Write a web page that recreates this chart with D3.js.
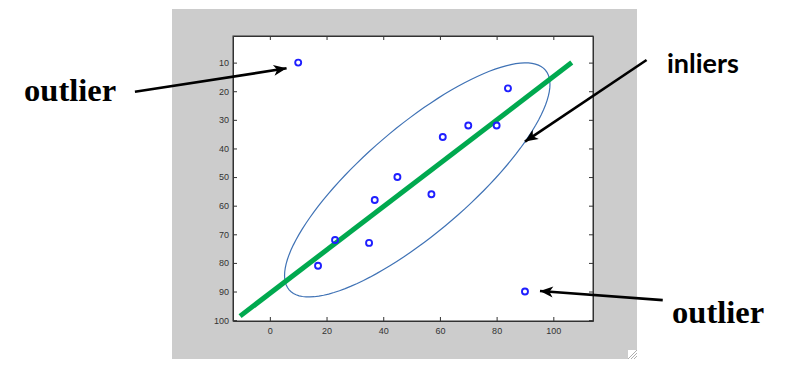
<!DOCTYPE html>
<html>
<head>
<meta charset="utf-8">
<script src="https://cdn.jsdelivr.net/npm/d3@7"></script>
<style>
html,body{margin:0;padding:0;background:#fff;}
svg{display:block;}
.tick text{font-family:"Liberation Sans",Arial,sans-serif;font-size:9px;fill:#333;}
.ax path,.ax line{stroke:#333;}
</style>
</head>
<body>
<svg id="chart" width="789" height="379"></svg>
<script>
// --- data ---
const ptX=[10,84,70,80,61,45,57,37,23,35,17,90];
const ptY=[10,19,32,32,36,50,56,58,72,73,81,90];
const fitX=[-10.5,106.5];
const fitY=[98.6,10];
// ellipse: centre and two conjugate half-axes (data units)
const ellC=[52,51];
const ellU=[45.2,-38.4];
const ellV=[-12.2,-14.1];
const xTicks=[0,20,40,60,80,100];
const yTicks=[10,20,30,40,50,60,70,80,90,100];
// annotations (data units): arrow tail -> tip, label position
const notes=[
  {text:'outlier',font:'bold 32.5px "Liberation Serif","Times New Roman",serif',tx:-86.7,ty:23.4,x0:-47.6,y0:20.2,x1:5.9,y1:12.0},
  {text:'inliers',font:'bold 27px Lato,"Open Sans",sans-serif',tx:140.1,ty:13.5,x0:132.9,y0:9.1,x1:90.0,y1:37.6},
  {text:'outlier',font:'bold 32.5px "Liberation Serif","Times New Roman",serif',tx:141.9,ty:101.0,x0:138.6,y0:93.0,x1:95.3,y1:89.8}
];

const W=789,H=379;
const P={l:233,t:36,r:593,b:321};
const svg=d3.select('#chart');

// figure window background
svg.append('rect').attr('x',172).attr('y',9).attr('width',465).attr('height',350).attr('fill','#cccccc');
const grip=svg.append('g');
grip.append('rect').attr('x',628).attr('y',350).attr('width',9).attr('height',9).attr('fill','#fff');
[3,6,9].forEach(d=>grip.append('line').attr('x1',637-d).attr('y1',359).attr('x2',637).attr('y2',359-d).attr('stroke','#999').attr('stroke-width',0.8));

svg.append('rect').attr('x',P.l).attr('y',P.t).attr('width',P.r-P.l).attr('height',P.b-P.t).attr('fill','#fff');

const x=d3.scaleLinear().domain([-13,114]).range([P.l,P.r]);
const y=d3.scaleLinear().domain([0.7,100.3]).range([P.t,P.b]);

svg.append('g').attr('class','ax').attr('transform',`translate(0,${P.b})`)
  .call(d3.axisBottom(x).tickValues(xTicks).tickSizeInner(-4).tickSizeOuter(0).tickPadding(7));
svg.append('g').attr('class','ax').attr('transform',`translate(0,${P.t})`)
  .call(d3.axisTop(x).tickValues(xTicks).tickFormat('').tickSizeInner(-4).tickSizeOuter(0));
svg.append('g').attr('class','ax').attr('transform',`translate(${P.l},0)`)
  .call(d3.axisLeft(y).tickValues(yTicks).tickSizeInner(-4).tickSizeOuter(0).tickPadding(4));
svg.append('g').attr('class','ax').attr('transform',`translate(${P.r},0)`)
  .call(d3.axisRight(y).tickValues(yTicks).tickFormat('').tickSizeInner(-4).tickSizeOuter(0));
svg.append('rect').attr('x',P.l).attr('y',P.t).attr('width',P.r-P.l).attr('height',P.b-P.t)
  .attr('fill','none').attr('stroke','#333').attr('stroke-width',1);

// ellipse
const ts=d3.range(0,361,3).map(a=>a*Math.PI/180);
svg.append('path')
  .datum(ts.map(t=>[ellC[0]+ellU[0]*Math.cos(t)+ellV[0]*Math.sin(t), ellC[1]+ellU[1]*Math.cos(t)+ellV[1]*Math.sin(t)]))
  .attr('d',d3.line().x(d=>x(d[0])).y(d=>y(d[1])))
  .attr('fill','none').attr('stroke','#3f72b5').attr('stroke-width',1.2);

// fitted line
svg.append('path').datum(fitX.map((v,i)=>[v,fitY[i]]))
  .attr('d',d3.line().x(d=>x(d[0])).y(d=>y(d[1])))
  .attr('stroke','#00a94f').attr('stroke-width',5).attr('fill','none');

// points
svg.append('g').selectAll('circle').data(ptX.map((v,i)=>[v,ptY[i]])).join('circle')
  .attr('cx',d=>x(d[0])).attr('cy',d=>y(d[1])).attr('r',3)
  .attr('fill','none').attr('stroke','#1f1fff').attr('stroke-width',1.9);

// annotations
svg.append('defs').append('marker').attr('id','ah')
  .attr('markerUnits','userSpaceOnUse').attr('viewBox','-14 -6 15 12')
  .attr('refX',0).attr('refY',0).attr('markerWidth',15).attr('markerHeight',12).attr('orient','auto')
  .append('path').attr('d','M0,0L-13,-5.5L-9.5,0L-13,5.5Z').attr('fill','#000');
const gN=svg.append('g');
notes.forEach(n=>{
  gN.append('line').attr('x1',x(n.x0)).attr('y1',y(n.y0)).attr('x2',x(n.x1)).attr('y2',y(n.y1))
    .attr('stroke','#000').attr('stroke-width',2.6).attr('marker-end','url(#ah)');
  gN.append('text').attr('x',x(n.tx)).attr('y',y(n.ty)).style('font',n.font).attr('fill','#000').text(n.text);
});
</script>
</body>
</html>
